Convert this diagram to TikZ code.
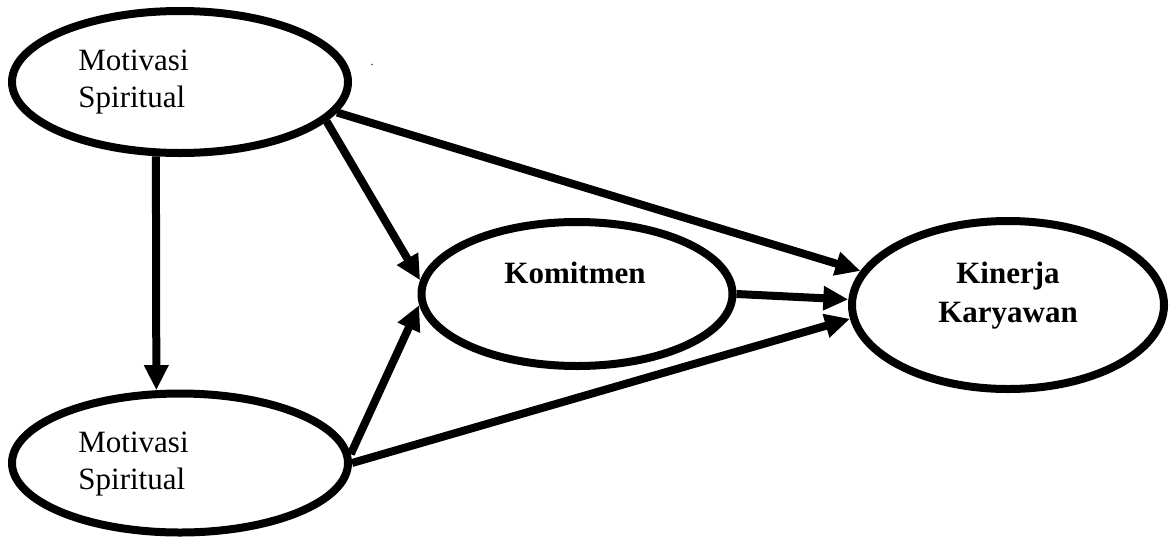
\documentclass[tikz,border=0pt]{standalone}
\usepackage{fontspec}
\setmainfont{Liberation Serif}
\usetikzlibrary{arrows.meta,shapes.geometric}
\begin{document}
\begin{tikzpicture}[x=0.5pt,y=-0.5pt,
  var/.style={ellipse, draw, line width=4pt, inner sep=0pt},
  txt/.style={inner sep=0pt, font=\fontsize{15.5}{18.5}\selectfont},
  arr/.style={line width=4pt, -{Triangle[length=12.5pt,width=11.5pt]}}]
\useasboundingbox (0,0) rectangle (1171,541);
\node[var, minimum width=168pt, minimum height=71pt] (mot1) at (180,82){};
\node[var, minimum width=168pt, minimum height=69.5pt] (mot2) at (180,463){};
\node[var, minimum width=155.5pt, minimum height=72pt] (kom) at (577,294){};
\node[var, minimum width=156pt, minimum height=84pt] (kin) at (1008,305){};
\node[txt, anchor=west, align=left] (mot1txt) at (78,82){Motivasi\\Spiritual};
\node[txt, anchor=west, align=left] (mot2txt) at (78,464){Motivasi\\Spiritual};
\node[txt, font=\fontsize{15.5}{18.5}\selectfont\bfseries] (komtxt) at (575,273){Komitmen};
\node[txt, font=\fontsize{15.5}{19.5}\selectfont\bfseries, align=center] (kintxt) at (1008,296){Kinerja\\Karyawan};
\node[inner sep=0pt, anchor=base, font=\fontsize{6}{7}\selectfont] (dot) at (372,65){.};
\draw[arr](mot1.252) -- (mot2.108);
\draw[arr](mot1.-15) -- (kom.175.5);
\draw[arr](mot1.-11) -- (kin.167);
\draw[arr](kom.east) -- (kin.178);
\draw[arr](mot2.3) -- (kom.184.5);
\draw[arr](mot2.0) -- (kin.-175);
\end{tikzpicture}
\end{document}
